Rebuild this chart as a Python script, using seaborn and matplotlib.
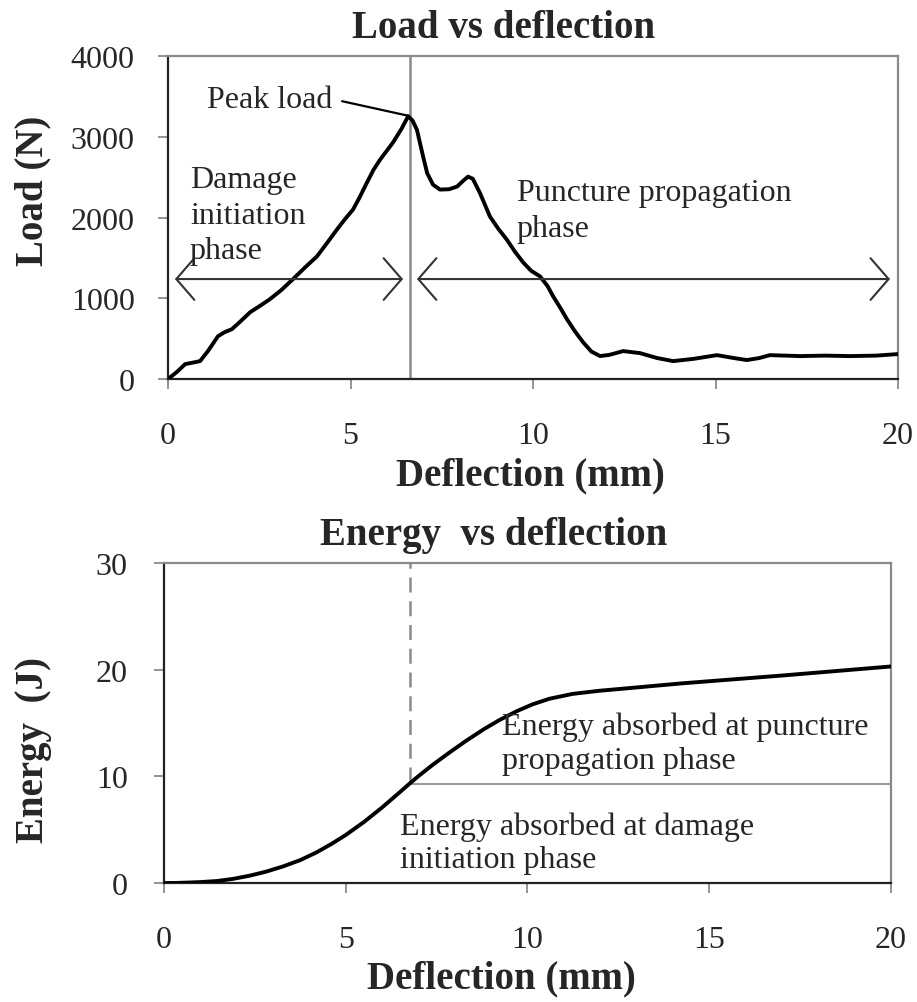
import numpy as np
import pandas as pd
import matplotlib
matplotlib.use("Agg")
import matplotlib.pyplot as plt
import seaborn as sns

# ---- data ----
load_deflection = [0, 0.25, 0.47, 0.7, 0.88, 1.1, 1.37, 1.55, 1.75, 2.0, 2.25, 2.5, 2.79, 3.1,
                   3.42, 3.75, 4.08, 4.35, 4.63, 4.85, 5.07, 5.25, 5.45, 5.63, 5.81, 6.0, 6.16,
                   6.4, 6.58, 6.7, 6.82, 6.99, 7.1, 7.26, 7.45, 7.7, 7.92, 8.1, 8.22, 8.35, 8.55,
                   8.82, 9.05, 9.28, 9.5, 9.73, 9.95, 10.19, 10.4, 10.55, 10.75, 10.93, 11.15,
                   11.37, 11.6, 11.84, 12.1, 12.47, 12.93, 13.4, 13.84, 14.4, 15.04, 15.5, 15.86,
                   16.2, 16.49, 17.32, 18.0, 18.68, 19.4, 20.0]
load_N = [0, 90, 185, 205, 222, 350, 530, 580, 617, 720, 827, 900, 988, 1100,
          1235, 1380, 1518, 1680, 1852, 1980, 2099, 2250, 2432, 2590, 2716, 2830, 2926,
          3100, 3255, 3200, 3086, 2753, 2550, 2407, 2346, 2350, 2383, 2460, 2506, 2480, 2300,
          2012, 1860, 1728, 1580, 1444, 1340, 1272, 1150, 1025, 880, 741, 590,
          457, 340, 284, 300, 346, 321, 260, 222, 250, 296, 260, 235,
          260, 296, 284, 290, 284, 290, 309]

energy_deflection = [0, 0.35, 0.7, 1.0, 1.46, 1.9, 2.36, 2.8, 3.27, 3.75, 4.2, 4.6, 5.0, 5.5,
                     6.0, 6.5, 6.76, 7.0, 7.4, 7.86, 8.32, 8.8, 9.23, 9.7, 10.14, 10.6, 11.24,
                     12.0, 12.5, 14.26, 17.0, 20.0]
energy_J = [0, 0.01, 0.05, 0.09, 0.19, 0.39, 0.69, 1.06, 1.55, 2.15, 2.88, 3.65, 4.5, 5.72,
            7.08, 8.55, 9.33, 10.02, 11.1, 12.25, 13.35, 14.42, 15.28, 16.1, 16.75, 17.27, 17.73,
            18.03, 18.18, 18.72, 19.45, 20.3]

load_ticks = [0, 1000, 2000, 3000, 4000]
energy_ticks = [0, 10, 20, 30]
defl_ticks = [0, 5, 10, 15, 20]

peak_deflection = 6.63
split_deflection = 6.76
split_energy = 9.3

# ---- style ----
sns.set_style("white")
plt.rcParams["font.family"] = ["Liberation Serif", "DejaVu Serif"]

fig = plt.figure(figsize=(9.17, 10.03), dpi=100)
ax1 = fig.add_axes([0.1832, 0.6211, 0.7961, 0.3221])
ax2 = fig.add_axes([0.1788, 0.1186, 0.7928, 0.3191])

df_load = pd.DataFrame({"Deflection": load_deflection, "Load": load_N})
df_energy = pd.DataFrame({"Deflection": energy_deflection, "Energy": energy_J})

# ---- top: load vs deflection ----
ax1.axvline(peak_deflection, color="#8a8a8a", lw=1.8, zorder=1)
sns.lineplot(data=df_load, x="Deflection", y="Load", ax=ax1, color="black", lw=2.8, zorder=3)
ax1.set_xlim(0, 20)
ax1.set_ylim(0, 4000)
ax1.set_xticks(defl_ticks)
ax1.set_yticks(load_ticks)

arrow_style = dict(arrowstyle="<->,head_length=1.3,head_width=1.5", color="#333333",
                   lw=1.5, shrinkA=0, shrinkB=0, mutation_scale=10)
ax1.annotate("", xy=(6.44, 1238), xytext=(0.19, 1238), arrowprops=arrow_style)
ax1.annotate("", xy=(19.78, 1238), xytext=(6.82, 1238), arrowprops=arrow_style)

ax1.plot([4.77, 6.56], [3440, 3262], color="black", lw=1.6, zorder=4)
ax1.text(1.07, 3640, "Peak load", fontsize=23, va="top", ha="left")
ax1.text(0.6, 2650, "Damage\ninitiation\nphase", fontsize=23, va="top", ha="left",
         linespacing=1.3)
ax1.text(9.56, 2494, "Puncture propagation\nphase", fontsize=23, va="top", ha="left",
         linespacing=1.33)

ax1.set_title("Load vs deflection", fontsize=28, fontweight="bold", x=0.46, pad=13.7)
ax1.set_xlabel("Deflection (mm)", fontsize=28, fontweight="bold")
ax1.set_ylabel("Load (N)", fontsize=28, fontweight="bold")
ax1.xaxis.set_label_coords(0.497, -0.238)
ax1.yaxis.set_label_coords(-0.159, 0.585)

# ---- bottom: energy vs deflection ----
ax2.vlines(split_deflection, split_energy + 0.2, 30, colors="#8a8a8a", lw=1.8,
           linestyles=(0, (6, 3.5)), zorder=1)
ax2.hlines(split_energy, split_deflection, 20, colors="#9a9a9a", lw=1.5, zorder=1)
sns.lineplot(data=df_energy, x="Deflection", y="Energy", ax=ax2, color="black", lw=2.8, zorder=3)
ax2.set_xlim(0, 20)
ax2.set_ylim(0, 30)
ax2.set_xticks(defl_ticks)
ax2.set_yticks(energy_ticks)

ax2.text(9.29, 16.1, "Energy absorbed at puncture\npropagation phase", fontsize=23,
         va="top", ha="left", linespacing=1.25)
ax2.text(6.48, 6.75, "Energy absorbed at damage\ninitiation phase", fontsize=23,
         va="top", ha="left", linespacing=1.22)

ax2.set_title("Energy  vs deflection", fontsize=28, fontweight="bold", x=0.454, pad=13.7)
ax2.set_xlabel("Deflection (mm)", fontsize=28, fontweight="bold")
ax2.set_ylabel("Energy  (J)", fontsize=28, fontweight="bold")
ax2.xaxis.set_label_coords(0.464, -0.24)
ax2.yaxis.set_label_coords(-0.154, 0.419)

for ax, ypad in ((ax1, 17), (ax2, 19)):
    for side in ("left", "bottom"):
        ax.spines[side].set_color("#222222")
        ax.spines[side].set_linewidth(1.6)
    for side in ("top", "right"):
        ax.spines[side].set_color("#8a8a8a")
        ax.spines[side].set_linewidth(1.6)
    ax.tick_params(axis="x", bottom=True, direction="out", length=7, width=1.3,
                   color="#8a8a8a", pad=23, labelsize=23)
    ax.tick_params(axis="y", left=True, direction="out", length=7, width=1.3,
                   color="#8a8a8a", pad=ypad, labelsize=23)
    ax.grid(False)

fig.savefig("out.png", dpi=100, facecolor="white")
